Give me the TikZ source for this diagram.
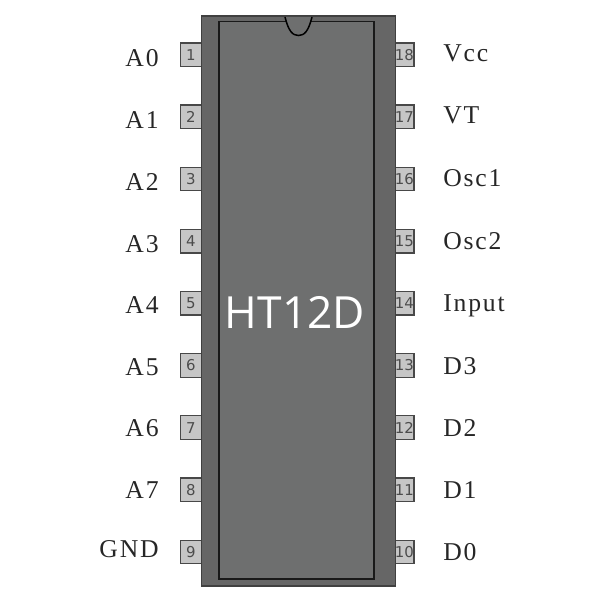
\documentclass[tikz,border=0pt]{standalone}
\usepackage{fontspec}
\setmainfont{Liberation Serif}
\newfontfamily\pinfont{DejaVu Sans}
\newfontfamily\labelfont[LetterSpace=7]{Liberation Serif}
\newfontfamily\chipfont{Open Sans}
\definecolor{chipbody}{HTML}{666666}
\definecolor{chipface}{HTML}{6E6F6F}
\definecolor{pinfill}{HTML}{C6C6C6}
\definecolor{pinline}{HTML}{484848}
\tikzset{
  pinbox/.style={draw=pinline, line width=0.25mm, fill=pinfill, rectangle, inner sep=0pt,
    minimum height=0.47cm, font=\pinfont\fontsize{8.5pt}{8.5pt}\selectfont, text=black!70},
  pinleft/.style={pinbox, minimum width=0.42cm},
  pinright/.style={pinbox, minimum width=0.36cm},
  pinname/.style={inner sep=0pt, text=black!85, font=\labelfont\fontsize{14.6pt}{14.6pt}\selectfont}
}
\begin{document}
\begin{tikzpicture}
\useasboundingbox (0,0) rectangle (12,12);

%левые выводы
\foreach \n/\txt/\ypos/\ylab in {1/A0/10.906/10.84, 2/A1/9.663/9.60, 3/A2/8.42/8.36, 4/A3/7.177/7.12,
  5/A4/5.934/5.90, 6/A5/4.691/4.66, 7/A6/3.448/3.44, 8/A7/2.205/2.20, 9/GND/0.962/1.02}
{
  \node[pinleft] (pin\n) at (3.82,\ypos) {\n};
  \node[pinname, anchor=east] (name\n) at (3.18,\ylab) {\txt};
}

%правые выводы
\foreach \n/\txt/\ypos/\ylab in {18/Vcc/10.906/10.94, 17/VT/9.663/9.70, 16/Osc1/8.42/8.44, 15/Osc2/7.177/7.18,
  14/Input/5.934/5.89, 13/D3/4.691/4.68, 12/D2/3.448/3.44, 11/D1/2.205/2.20, 10/D0/0.962/0.96}
{
  \node[pinright] (pin\n) at (8.09,\ypos) {\n};
  \node[pinname, anchor=west] (name\n) at (8.86,\ylab) {\txt};
}

%корпус
\node[draw=black!75, line width=0.3mm, fill=chipbody, rectangle, inner sep=0pt,
  minimum width=3.88cm, minimum height=11.4cm] (body) at (5.97,5.98) {};
\node[draw=black!90, line width=0.3mm, fill=chipface, rectangle, inner sep=0pt,
  minimum width=3.1cm, minimum height=11.146cm] (face) at (5.93,5.993) {};

%выемка
\coordinate (notchl) at (5.70,11.66);
\coordinate (notchr) at (6.24,11.66);
\filldraw[fill=chipface, draw=black, line width=0.3mm] (notchl) .. controls (5.77,11.38) and (5.85,11.29) .. (5.97,11.29) .. controls (6.09,11.29) and (6.17,11.38) .. (notchr);

\node[text=white, inner sep=0pt, font=\chipfont\fontsize{25.2pt}{25.2pt}\selectfont] (title) at (5.9,5.75) {HT12D};

\end{tikzpicture}
\end{document}
